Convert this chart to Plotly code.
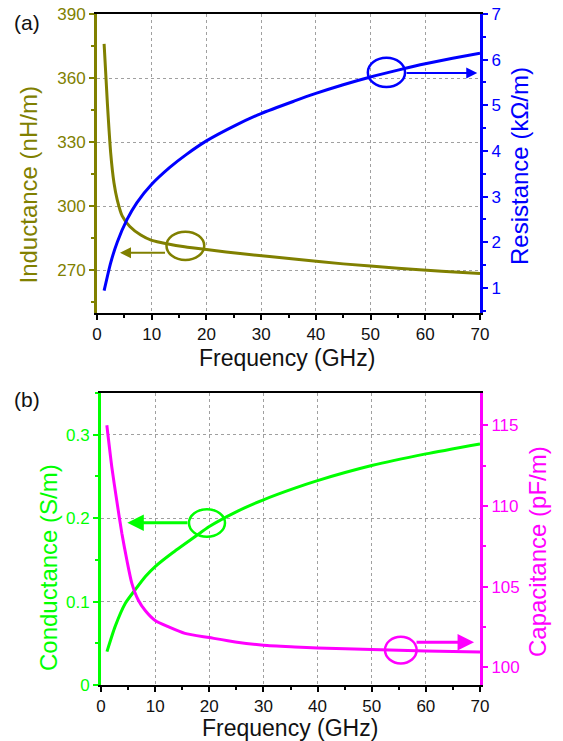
import plotly.graph_objects as go

# ---------------- data ----------------
freq_L = [1.3, 1.9, 2.5, 3.1, 3.7, 4.6, 6, 8, 10, 13, 16, 20, 27, 36, 45, 55, 63, 70]
inductance = [376, 348, 325, 311, 303, 295.5, 290.5, 286.5, 284, 282.3, 281, 279.7,
              277.6, 275.3, 273, 271, 269.5, 268.5]

freq_R = [1.3, 2.5, 3.7, 5.5, 7.3, 10, 13.3, 16.3, 20, 25.3, 30, 36, 40, 45, 50, 55, 60, 65, 70]
resistance = [0.94, 1.55, 2.0, 2.5, 2.87, 3.27, 3.64, 3.92, 4.22, 4.56, 4.82, 5.09,
              5.26, 5.45, 5.62, 5.77, 5.91, 6.03, 6.14]

freq_G = [1.1, 2.6, 4.5, 6.3, 8.2, 10, 13.1, 17.4, 20, 24.8, 30, 35.8, 40, 50, 60, 70]
conductance = [0.04, 0.07, 0.098, 0.114, 0.13, 0.142, 0.158, 0.178, 0.19, 0.207,
               0.222, 0.236, 0.245, 0.263, 0.277, 0.289]

freq_C = [1.08, 2, 2.9, 3.85, 4.8, 5.7, 6.9, 8.2, 10, 12.5, 15.5, 20, 24.8, 30, 35.8,
          40, 50, 60, 70]
capacitance = [115, 112.4, 110.35, 108.3, 106.6, 105.2, 104.15, 103.5, 102.9, 102.5,
               102.1, 101.84, 101.57, 101.36, 101.26, 101.2, 101.1, 101.0, 100.95]

x_ticks = [0, 10, 20, 30, 40, 50, 60, 70]

# ---------------- style ----------------
W, H = 563, 741
OLIVE = "#808000"
BLUE = "#0000ff"
GREEN = "#00ff00"
MAGENTA = "#ff00ff"
FONT = "Liberation Sans, Arial, sans-serif"
GRID = "#a0a0a0"


def px(p):
    return p / W


def py(p):
    return 1 - p / H


fig = go.Figure()
fig.add_trace(go.Scatter(x=freq_L, y=inductance, mode="lines", xaxis="x", yaxis="y",
                         line=dict(color=OLIVE, width=3, shape="spline", smoothing=0.6)))
fig.add_trace(go.Scatter(x=freq_R, y=resistance, mode="lines", xaxis="x", yaxis="y2",
                         line=dict(color=BLUE, width=3, shape="spline", smoothing=0.6)))
fig.add_trace(go.Scatter(x=freq_G, y=conductance, mode="lines", xaxis="x2", yaxis="y3",
                         line=dict(color=GREEN, width=3, shape="spline", smoothing=0.6)))
fig.add_trace(go.Scatter(x=freq_C, y=capacitance, mode="lines", xaxis="x2", yaxis="y4",
                         line=dict(color=MAGENTA, width=3, shape="spline", smoothing=0.6)))


def xax(domain, anchor):
    return dict(domain=domain, anchor=anchor, range=[0, 70], tickvals=x_ticks,
                automargin=False,
                ticks="outside", ticklen=5, tickwidth=1.5, tickcolor="black",
                tickfont=dict(size=17, color="#111", family=FONT),
                showline=True, linecolor="black", linewidth=1.5, mirror=True,
                showgrid=True, gridcolor=GRID, griddash="dot", gridwidth=1,
                zeroline=False,
                minor=dict(dtick=5, tick0=0, ticks="outside", ticklen=3,
                           tickcolor="black", showgrid=False))


def yax(domain, anchor, rng, tick0, dtick, mdtick, color, side="left", grid=True,
        overlaying=None):
    d = dict(domain=domain, anchor=anchor, range=rng, tick0=tick0, dtick=dtick,
             automargin=False,
             ticks="outside", ticklen=5, tickwidth=1.5, tickcolor=color,
             tickfont=dict(size=17, color=color, family=FONT),
             showline=True, linecolor=color, linewidth=3, side=side,
             showgrid=grid, gridcolor=GRID, griddash="dot", gridwidth=1,
             zeroline=False,
             minor=dict(dtick=mdtick, tick0=tick0, ticks="outside", ticklen=3,
                        tickcolor=color, showgrid=False))
    if overlaying:
        d["overlaying"] = overlaying
        d.pop("domain")
    return d


top_dom = [py(313), py(14)]
bot_dom = [py(685), py(393)]

fig.update_layout(
    template="none",
    width=W, height=H,
    margin=dict(l=0, r=0, t=0, b=0, pad=0),
    paper_bgcolor="white", plot_bgcolor="white",
    showlegend=False,
    font=dict(family=FONT),
    xaxis=xax([px(97), px(480)], "y"),
    yaxis=yax(top_dom, "x", [250, 390], 270, 30, 15, OLIVE),
    yaxis2=yax(None, "x", [0.45, 7], 1, 1, 0.5, BLUE, side="right", grid=False,
               overlaying="y"),
    xaxis2=xax([px(101), px(480)], "y3"),
    yaxis3=yax(bot_dom, "x2", [0, 0.35], 0, 0.1, 0.05, GREEN),
    yaxis4=yax(None, "x2", [98.9, 117], 100, 5, 2.5, MAGENTA, side="right", grid=False,
               overlaying="y3"),
)

# ---------------- ellipses and arrows ----------------
shapes = [
    dict(type="circle", xref="x", yref="y", x0=12.7, x1=19.6, y0=274.8, y1=288.1,
         line=dict(color=OLIVE, width=2.5)),
    dict(type="circle", xref="x", yref="y2", x0=49.5, x1=56.3, y0=5.40, y1=6.04,
         line=dict(color=BLUE, width=2.5)),
    dict(type="circle", xref="x2", yref="y3", x0=16.25, x1=22.9, y0=0.1777, y1=0.2106,
         line=dict(color=GREEN, width=2.5)),
    dict(type="circle", xref="x2", yref="y4", x0=52.45, x1=58.3, y0=100.24, y1=101.89,
         line=dict(color=MAGENTA, width=2.5)),
]
fig.update_layout(shapes=shapes)

arrows = [
    dict(x=4.2, y=278.2, ax=12.7, ay=278.2, xref="x", yref="y", axref="x", ayref="y",
         arrowcolor=OLIVE, arrowwidth=2),
    dict(x=69.5, y=5.71, ax=56.3, ay=5.71, xref="x", yref="y2", axref="x", ayref="y2",
         arrowcolor=BLUE, arrowwidth=2),
    dict(x=4.86, y=0.1945, ax=16.25, ay=0.1945, xref="x2", yref="y3", axref="x2",
         ayref="y3", arrowcolor=GREEN, arrowwidth=3),
    dict(x=68.9, y=101.55, ax=58.0, ay=101.55, xref="x2", yref="y4", axref="x2",
         ayref="y4", arrowcolor=MAGENTA, arrowwidth=3),
]
for a in arrows:
    fig.add_annotation(text="", showarrow=True, arrowhead=2, arrowsize=1.1, **a)


def label(text, x, y, color, size=24, angle=0):
    fig.add_annotation(text=text, x=px(x), y=py(y), xref="paper", yref="paper",
                       showarrow=False, textangle=angle, xanchor="center",
                       yanchor="middle", font=dict(size=size, color=color, family=FONT))


label("Inductance (nH/m)", 27.5, 185, OLIVE, angle=-90)
label("Resistance (kΩ/m)", 519, 166, BLUE, angle=-90)
label("Frequency (GHz)", 286.5, 358, "#111", size=23)
label("Conductance (S/m)", 48, 568, GREEN, angle=-90)
label("Capacitance (pF/m)", 537, 552, MAGENTA, angle=-90)
label("Frequency (GHz)", 290, 728, "#111", size=23)
label("(a)", 27, 23, "#111", size=21)
label("(b)", 27, 399, "#111", size=21)

fig.write_html("out.html",
               config={"displayModeBar": False},
               post_script="document.body.style.margin='0';"
                           "document.body.style.overflow='hidden';")
